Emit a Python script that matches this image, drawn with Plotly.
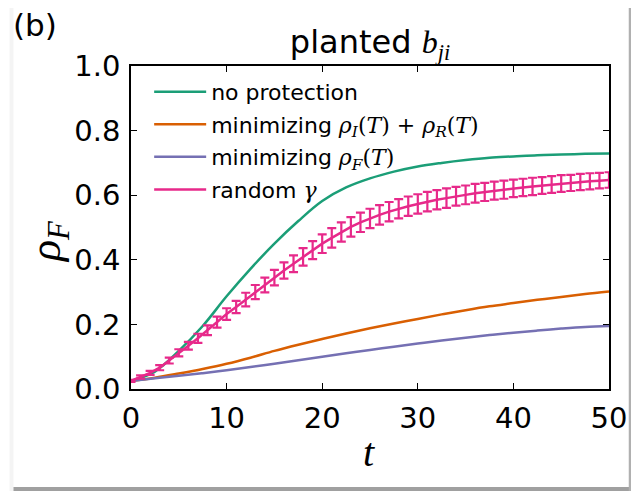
import plotly.graph_objects as go

# ---- data ----
t_curve = [0, 2.5, 5, 7.5, 10, 12.5, 15, 17.5, 20, 22.5, 25, 27.5, 30,
           32.5, 35, 37.5, 40, 42.5, 45, 47.5, 50]
no_protection = [0.025, 0.054, 0.118, 0.195, 0.287, 0.372, 0.45, 0.52, 0.582,
                 0.624, 0.652, 0.673, 0.689, 0.700, 0.709, 0.716, 0.720,
                 0.724, 0.726, 0.728, 0.729]
min_IR = [0.025, 0.035, 0.048, 0.062, 0.078, 0.097, 0.118, 0.137, 0.155,
          0.172, 0.188, 0.203, 0.217, 0.231, 0.244, 0.256, 0.266, 0.276,
          0.285, 0.294, 0.302]
min_F = [0.025, 0.033, 0.041, 0.049, 0.058, 0.068, 0.078, 0.089, 0.100,
         0.111, 0.121, 0.131, 0.141, 0.150, 0.159, 0.167, 0.174, 0.181,
         0.187, 0.192, 0.195]

t_random = list(range(0, 51))
random_gamma = [0.025, 0.037, 0.050, 0.066, 0.088, 0.112, 0.134, 0.157, 0.182,
                0.207, 0.232, 0.254, 0.277, 0.300, 0.322, 0.345, 0.367, 0.388,
                0.409, 0.430, 0.450, 0.468, 0.486, 0.502, 0.516, 0.528, 0.539,
                0.549, 0.558, 0.566, 0.573, 0.580, 0.586, 0.591, 0.597, 0.601,
                0.606, 0.610, 0.614, 0.617, 0.621, 0.624, 0.627, 0.630, 0.633,
                0.636, 0.638, 0.641, 0.643, 0.645, 0.647]
random_err = [0.003, 0.005, 0.006, 0.008, 0.009, 0.011, 0.012, 0.014, 0.015,
              0.017, 0.018, 0.019, 0.021, 0.022, 0.023, 0.024, 0.025, 0.026,
              0.027, 0.028, 0.029, 0.030, 0.030, 0.030, 0.030, 0.030, 0.030,
              0.030, 0.030, 0.030, 0.030, 0.030, 0.030, 0.030, 0.029, 0.029,
              0.029, 0.028, 0.028, 0.028, 0.027, 0.027, 0.027, 0.026, 0.026,
              0.026, 0.025, 0.025, 0.025, 0.024, 0.024]

x_ticks = [0, 10, 20, 30, 40, 50]
y_ticks = [0.0, 0.2, 0.4, 0.6, 0.8, 1.0]
y_ticklabels = ["0.0", "0.2", "0.4", "0.6", "0.8", "1.0"]

GREEN, ORANGE, PURPLE, PINK = "#1b9e77", "#d95f02", "#7570b3", "#e7298a"
SERIF = "Liberation Serif"
MSERIF = "DejaVu Serif"
SANS = "DejaVu Sans"

def m(s, size=None, fam=MSERIF):
    st = f"font-family:{fam}"
    if size:
        st += f";font-size:{size}px"
    return f'<span style="{st}">{s}</span>'

fig = go.Figure()
fig.add_trace(go.Scatter(x=t_curve, y=no_protection, mode="lines",
                         line=dict(color=GREEN, width=2.5, shape="spline"),
                         name="no protection", legendgroup="a"))
fig.add_trace(go.Scatter(x=t_curve, y=min_IR, mode="lines",
                         line=dict(color=ORANGE, width=2.5, shape="spline"),
                         name="minimizing " + m("<i>ρ</i><sub><i>I</i></sub>(<i>T</i>) + <i>ρ</i><sub><i>R</i></sub>(<i>T</i>)"),
                         legendgroup="b"))
fig.add_trace(go.Scatter(x=t_curve, y=min_F, mode="lines",
                         line=dict(color=PURPLE, width=2.5, shape="spline"),
                         name="minimizing " + m("<i>ρ</i><sub><i>F</i></sub>(<i>T</i>)"),
                         legendgroup="c"))
fig.add_trace(go.Scatter(x=t_random, y=random_gamma, mode="lines",
                         line=dict(color=PINK, width=2.5),
                         error_y=dict(type="data", array=random_err,
                                      color=PINK, thickness=2.2, width=4.5),
                         name="random " + m("<i>γ</i>"), legendgroup="d"))

# page is offset by the browser's default 8px body margin
OFF = 8
W, H = 639 - OFF, 491 - OFF
L, R, T, B = 131 - OFF, 639 - 615, 66 - OFF, 491 - 389
pw, ph = W - L - R, H - T - B

def px(xp):  # reference page pixel -> paper x
    return (xp - OFF - L) / pw

def py(yp):  # reference page pixel -> paper y
    return (H - B - (yp - OFF)) / ph

shapes = [
    dict(type="rect", xref="paper", yref="paper", x0=px(8), x1=px(12),
         y0=py(491), y1=py(8), fillcolor="#f4f4f4", line=dict(width=0), layer="below"),
    dict(type="rect", xref="paper", yref="paper", x0=px(12), x1=px(639),
         y0=py(491), y1=py(487), fillcolor="#a0a0a0", line=dict(width=0), layer="below"),
    dict(type="rect", xref="paper", yref="paper", x0=px(635), x1=px(639),
         y0=py(491), y1=py(8), fillcolor="#b0b0b0", line=dict(width=0), layer="below"),
]

annotations = [
    dict(text="(b)", xref="paper", yref="paper", x=px(11), y=py(25),
         xanchor="left", yanchor="middle", showarrow=False, borderpad=0,
         font=dict(family=SANS, size=31, color="black")),
    dict(text="<i>t</i>", xref="paper", yref="paper", x=px(372), y=py(452),
         xanchor="center", yanchor="middle", showarrow=False,
         font=dict(family=SERIF, size=40, color="black")),
    dict(text="<i>ρ</i><sub><i>F</i></sub>", xref="paper", yref="paper",
         x=px(47), y=py(242), xanchor="center", yanchor="middle",
         textangle=-90, showarrow=False,
         font=dict(family=SERIF, size=44, color="black")),
]

axis_common = dict(showline=True, linecolor="black", linewidth=1.5,
                   mirror="ticks", ticks="inside", ticklen=6, tickwidth=1.2,
                   tickcolor="black", showgrid=False, zeroline=False,
                   tickfont=dict(family=SANS, size=29, color="black"))

fig.update_layout(
    width=W, height=H,
    margin=dict(l=L, r=R, t=T, b=B),
    paper_bgcolor="white", plot_bgcolor="white",
    title=dict(text="planted " + m("<i>b</i><sub><i>ji</i></sub>", fam=SERIF),
               x=0.5, xref="paper", y=(H - (42 - OFF)) / H, yref="container",
               xanchor="center", yanchor="middle",
               font=dict(family=SANS, size=32, color="black")),
    xaxis=dict(range=[0, 50], tickvals=x_ticks, ticklabelstandoff=2, **axis_common),
    yaxis=dict(range=[0, 1], tickvals=y_ticks, ticktext=y_ticklabels,
               ticklabelstandoff=3, **axis_common),
    showlegend=True,
    legend=dict(x=0.038, y=0.985, xanchor="left", yanchor="top",
                bgcolor="rgba(0,0,0,0)", borderwidth=0,
                font=dict(family=SANS, size=22, color="black"),
                traceorder="grouped", tracegroupgap=1, itemwidth=52),
    shapes=shapes,
    annotations=annotations,
)

fig.write_html("out.html")
